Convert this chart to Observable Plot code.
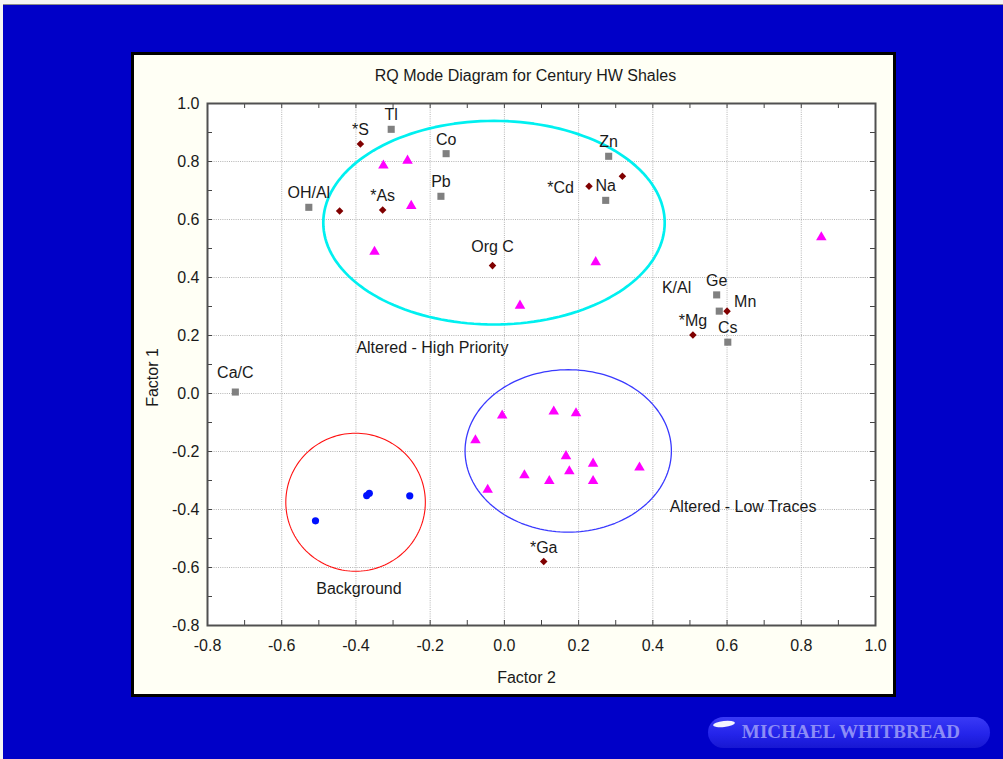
<!DOCTYPE html>
<html>
<head>
<meta charset="utf-8">
<script src="https://cdn.jsdelivr.net/npm/d3@7"></script>
<script src="https://cdn.jsdelivr.net/npm/@observablehq/plot@0.6"></script>
<style>
  html, body { margin: 0; padding: 0; background: #f4f4f4; }
  #page { position: absolute; left: 3px; top: 4px; width: 1000px; height: 755px; background: #0000c8; border-top: 1px solid #8a8a8a; overflow: hidden; }
  #panel { position: absolute; left: 128px; top: 47px; width: 759px; height: 639px; border: 3px solid #000; background: #fffff5; }
  #panel svg { display: block; }
  #logo { position: absolute; left: 705px; top: 712px; width: 282px; height: 31px; border-radius: 16px;
          background: linear-gradient(180deg, #3a3af6 0%, #2424ea 55%, #1717d2 100%); }
  #logo .shine { position: absolute; left: 5px; top: 4px; width: 22px; height: 6px; border-radius: 50%; background: #f4f4ff; transform: rotate(-6deg); }
  #logo .txt { position: absolute; left: 0; width: 100%; top: 4px; padding-left: 4px; box-sizing: border-box; text-align: center; font-family: "Liberation Serif", "DejaVu Serif", serif; font-weight: bold; font-size: 19px; color: #8c8cf6; letter-spacing: 0.1px; }
</style>
</head>
<body>
<div id="page">
  <div id="panel"></div>
  <div id="logo"><div class="shine"></div><div class="txt">MICHAEL WHITBREAD</div></div>
</div>
<script>
// ---- data (Factor 2 = x, Factor 1 = y) ----
const squareLabels = ["Tl", "Co", "Pb", "OH/Al", "Zn", "Na", "Ge", "K/Al", "Cs", "Ca/C"];
const squareF2 = [-0.305, -0.157, -0.171, -0.527, 0.281, 0.273, 0.572, 0.579, 0.602, -0.725];
const squareF1 = [0.911, 0.827, 0.680, 0.642, 0.818, 0.666, 0.340, 0.284, 0.177, 0.005];

const diamondLabels = ["*S", "", "*As", "Org C", "*Cd", "", "Mn", "*Mg", "*Ga"];
const diamondF2 = [-0.388, -0.444, -0.328, -0.032, 0.228, 0.318, 0.600, 0.508, 0.106];
const diamondF1 = [0.860, 0.629, 0.633, 0.441, 0.715, 0.749, 0.284, 0.202, -0.579];

const triangleF2 = [-0.326, -0.261, -0.251, -0.350, 0.246, 0.042, 0.854,
                    -0.006, 0.133, 0.193, -0.078, 0.166, 0.239, 0.364, 0.054, 0.175, 0.121, 0.239, -0.045];
const triangleF1 = [0.786, 0.803, 0.647, 0.489, 0.453, 0.303, 0.539,
                    -0.076, -0.062, -0.068, -0.161, -0.216, -0.242, -0.255, -0.282, -0.268, -0.302, -0.302, -0.332];

const circleF2 = [-0.509, -0.371, -0.364, -0.255];
const circleF1 = [-0.439, -0.352, -0.344, -0.353];

const groupNames = ["Altered - High Priority", "Altered - Low Traces", "Background"];
const groupCenterF2 = [-0.028, 0.172, -0.401];
const groupCenterF1 = [0.589, -0.198, -0.375];
const groupRadiusF2 = [0.460, 0.278, 0.188];
const groupRadiusF1 = [0.351, 0.280, 0.238];
const groupLabelF2 = [-0.194, 0.643, -0.392];
const groupLabelF1 = [0.159, -0.390, -0.675];

const majorTicks = [-0.8, -0.6, -0.4, -0.2, 0.0, 0.2, 0.4, 0.6, 0.8, 1.0];
const allTicks = [-0.8, -0.7, -0.6, -0.5, -0.4, -0.3, -0.2, -0.1, 0.0, 0.1, 0.2, 0.3, 0.4, 0.5, 0.6, 0.7, 0.8, 0.9, 1.0];

const chartTitle = "RQ Mode Diagram for Century HW Shales";
const xTitle = "Factor 2";
const yTitle = "Factor 1";

// ---- tables ----
const squares = squareLabels.map((label, i) => ({label, x: squareF2[i], y: squareF1[i]}));
const diamonds = diamondLabels.map((label, i) => ({label, x: diamondF2[i], y: diamondF1[i]}));
const triangles = triangleF2.map((x, i) => ({x, y: triangleF1[i]}));
const circles = circleF2.map((x, i) => ({x, y: circleF1[i]}));
const groupLabels = groupNames.map((name, i) => ({name, x: groupLabelF2[i], y: groupLabelF1[i]}));

// ellipse outlines (shape geometry from centre/radii)
const N = 160;
const ellipsePts = [];
groupNames.forEach((name, k) => {
  for (let i = 0; i <= N; i++) {
    const a = 2 * Math.PI * i / N;
    ellipsePts.push({name, x: groupCenterF2[k] + groupRadiusF2[k] * Math.cos(a), y: groupCenterF1[k] + groupRadiusF1[k] * Math.sin(a)});
  }
});

// label placement (layout, not data)
const placement = {"Org C": "far", "Ca/C": "far", "*Cd": "left", "K/Al": "upleft", "Mn": "right"};
const labelled = [...squares, ...diamonds].filter(d => d.label !== "");
const byPlace = p => labelled.filter(d => (placement[d.label] || "above") === p);

const W = 759, H = 639, ML = 73, MR = 18, MT = 48, MB = 69;
const innerW = W - ML - MR, innerH = H - MT - MB;
const txt = "#1a1a1a";

const chart = Plot.plot({
  width: W, height: H,
  marginLeft: ML, marginRight: MR, marginTop: MT, marginBottom: MB,
  style: {background: "#fffff5", fontFamily: "'Liberation Sans', Arial, sans-serif", fontSize: "16px", color: txt, overflow: "visible"},
  x: {domain: [-0.8, 1.0], label: null},
  y: {domain: [-0.8, 1.0], label: null},
  marks: [
    Plot.frame({fill: "#ffffff", stroke: null}),
    Plot.gridX(majorTicks, {stroke: "#b4b4b4", strokeOpacity: 1, strokeDasharray: "1,1.2"}),
    Plot.gridY(majorTicks, {stroke: "#b4b4b4", strokeOpacity: 1, strokeDasharray: "1,1.2"}),
    // inward ticks on all four sides
    Plot.tickX(allTicks, {x: d => d, insetTop: innerH - 5, stroke: "#444"}),
    Plot.tickX(allTicks, {x: d => d, insetBottom: innerH - 5, stroke: "#444"}),
    Plot.tickY(allTicks, {y: d => d, insetRight: innerW - 5, stroke: "#444"}),
    Plot.tickY(allTicks, {y: d => d, insetLeft: innerW - 5, stroke: "#444"}),
    Plot.frame({stroke: "#505050", strokeWidth: 2}),
    Plot.axisX(majorTicks, {tickSize: 0, tickPadding: 14, tickFormat: d => d.toFixed(1), fontSize: 16, fill: txt, label: null}),
    Plot.axisY(majorTicks, {tickSize: 0, tickPadding: 8, tickFormat: d => d.toFixed(1), fontSize: 16, fill: txt, label: null}),
    // group ellipses
    Plot.line(ellipsePts.filter(d => d.name === groupNames[0]), {x: "x", y: "y", stroke: "#00f0f0", strokeWidth: 2.7}),
    Plot.line(ellipsePts.filter(d => d.name === groupNames[1]), {x: "x", y: "y", stroke: "#3a3aff", strokeWidth: 1.3}),
    Plot.line(ellipsePts.filter(d => d.name === groupNames[2]), {x: "x", y: "y", stroke: "#ff1010", strokeWidth: 1.1}),
    // points
    Plot.dot(squares, {x: "x", y: "y", symbol: "square", r: 4, fill: "#808080", stroke: null}),
    Plot.dot(diamonds, {x: "x", y: "y", symbol: "diamond2", r: 3.4, fill: "#800000", stroke: null}),
    Plot.dot(triangles, {x: "x", y: "y", symbol: "triangle", r: 3.9, fill: "#ff00ff", stroke: null}),
    Plot.dot(circles, {x: "x", y: "y", symbol: "circle", r: 3.6, fill: "#0010ff", stroke: null}),
    // point labels
    Plot.text(byPlace("above"), {x: "x", y: "y", text: "label", dy: -14, fontSize: 16, fill: txt}),
    Plot.text(byPlace("far"), {x: "x", y: "y", text: "label", dy: -19, fontSize: 16, fill: txt}),
    Plot.text(byPlace("left"), {x: "x", y: "y", text: "label", textAnchor: "end", dx: -15, dy: 2, fontSize: 16, fill: txt}),
    Plot.text(byPlace("upleft"), {x: "x", y: "y", text: "label", textAnchor: "end", dx: -28, dy: -23, fontSize: 16, fill: txt}),
    Plot.text(byPlace("right"), {x: "x", y: "y", text: "label", textAnchor: "start", dx: 7, dy: -9, fontSize: 16, fill: txt}),
    // group annotations
    Plot.text(groupLabels, {x: "x", y: "y", text: "name", fontSize: 16, fill: txt}),
    // titles
    Plot.text([chartTitle], {text: d => d, frameAnchor: "top", lineAnchor: "middle", textAnchor: "middle", dx: -16, dy: -28, fontSize: 16, fill: txt}),
    Plot.text([xTitle], {text: d => d, frameAnchor: "bottom", lineAnchor: "middle", textAnchor: "middle", dx: -15, dy: 52, fontSize: 16, fill: txt}),
    Plot.text([yTitle], {text: d => d, frameAnchor: "left", lineAnchor: "middle", textAnchor: "middle", rotate: -90, dx: -54.5, dy: 13, fontSize: 16, fill: txt})
  ]
});
document.getElementById("panel").appendChild(chart);
</script>
</body>
</html>
